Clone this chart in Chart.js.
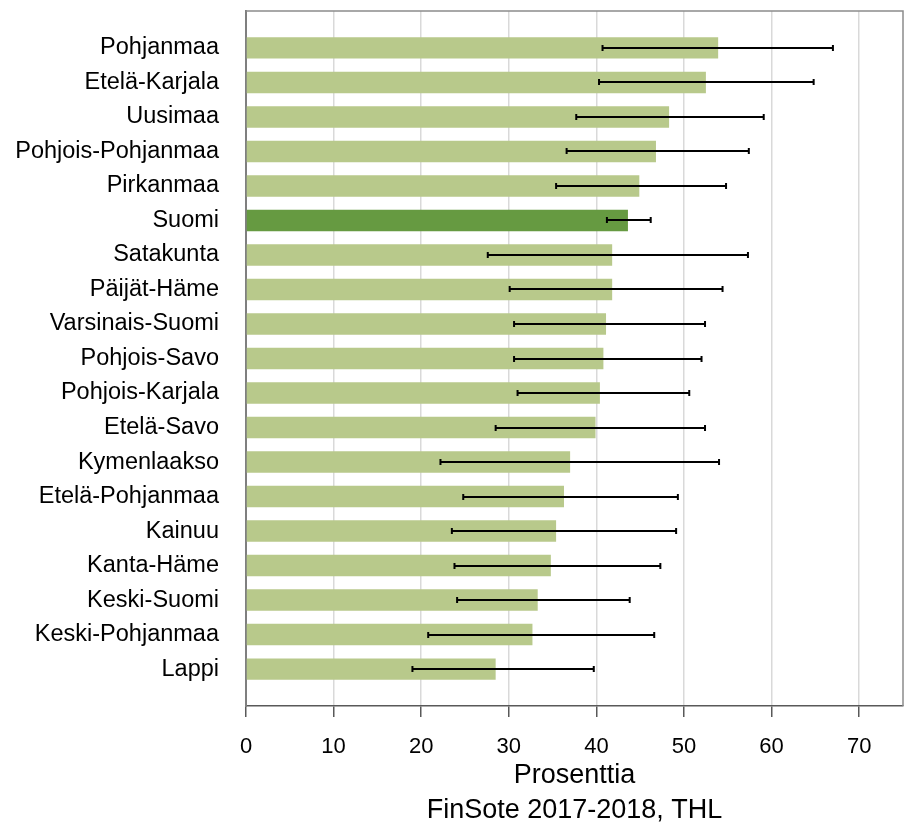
<!DOCTYPE html>
<html>
<head>
<meta charset="utf-8">
<title>FinSote 2017-2018</title>
<script src="https://cdn.jsdelivr.net/npm/chart.js@4.4.1/dist/chart.umd.min.js"></script>
<style>
  html, body { margin: 0; padding: 0; background: #fff; }
  #wrap { width: 905px; height: 825px; position: relative; }
</style>
</head>
<body>
<div id="wrap"><canvas id="chart"></canvas></div>
<script>
// Regions, sorted by share (%), with 95 % confidence limits
var REGIONS = ["Pohjanmaa", "Etelä-Karjala", "Uusimaa", "Pohjois-Pohjanmaa", "Pirkanmaa", "Suomi",
  "Satakunta", "Päijät-Häme", "Varsinais-Suomi", "Pohjois-Savo", "Pohjois-Karjala", "Etelä-Savo",
  "Kymenlaakso", "Etelä-Pohjanmaa", "Kainuu", "Kanta-Häme", "Keski-Suomi", "Keski-Pohjanmaa", "Lappi"];
var VALUES = [53.9, 52.5, 48.3, 46.8, 44.9, 43.6, 41.8, 41.8, 41.1, 40.8, 40.4, 39.9, 37.0, 36.3, 35.4, 34.8, 33.3, 32.7, 28.5];
var LOWER  = [40.7, 40.3, 37.7, 36.6, 35.4, 41.2, 27.6, 30.1, 30.6, 30.6, 31.0, 28.5, 22.2, 24.8, 23.5, 23.8, 24.1, 20.8, 19.0];
var UPPER  = [67.0, 64.8, 59.1, 57.4, 54.8, 46.2, 57.3, 54.4, 52.4, 52.0, 50.6, 52.4, 54.0, 49.3, 49.1, 47.3, 43.8, 46.6, 39.7];
var X_TICKS = [0, 10, 20, 30, 40, 50, 60, 70];
var HIGHLIGHT = "Suomi";
var X_TITLE = ["Prosenttia", "FinSote 2017-2018, THL"];

(function () {
  "use strict";
  var COL = { bar: "#b8c98b", hi: "#669a41", grid: "#d9d9d9", axis: "#595959", frame: "#8c8c8c" };
  var FONT = "'Liberation Sans', Arial, sans-serif";
  var Y_MIN = -1.07, Y_MAX = REGIONS.length - 1 + 1.07; // empty space above first / below last bar

  // error bars + top/right frame of the plot area
  var extras = {
    id: "extras",
    afterDatasetsDraw: function (chart) {
      var ctx = chart.ctx, x = chart.scales.x, y = chart.scales.y;
      ctx.save();
      ctx.strokeStyle = "#000"; ctx.lineWidth = 2;
      REGIONS.forEach(function (r, i) {
        var yp = Math.round(y.getPixelForValue(i));
        var x0 = x.getPixelForValue(LOWER[i]), x1 = x.getPixelForValue(UPPER[i]);
        ctx.beginPath();
        ctx.moveTo(x0, yp); ctx.lineTo(x1, yp);
        ctx.moveTo(x0, yp - 3); ctx.lineTo(x0, yp + 3);
        ctx.moveTo(x1, yp - 3); ctx.lineTo(x1, yp + 3);
        ctx.stroke();
      });
      ctx.restore();
    },
    afterDraw: function (chart) {
      var ctx = chart.ctx, a = chart.chartArea;
      ctx.save();
      ctx.strokeStyle = COL.frame; ctx.lineWidth = 1.5;
      ctx.beginPath();
      ctx.moveTo(a.left, a.top); ctx.lineTo(a.right, a.top); ctx.lineTo(a.right, a.bottom);
      ctx.stroke();
      ctx.restore();
    }
  };

  new Chart(document.getElementById("chart"), {
    type: "bar",
    data: {
      datasets: [{
        data: VALUES.map(function (v, i) { return { x: v, y: i }; }),
        backgroundColor: REGIONS.map(function (r) { return r === HIGHLIGHT ? COL.hi : COL.bar; }),
        barPercentage: 0.62, categoryPercentage: 1
      }]
    },
    options: {
      indexAxis: "y", responsive: true, maintainAspectRatio: false, animation: false,
      layout: { padding: { top: 11, right: 2, left: 0, bottom: 0 } },
      plugins: { legend: { display: false }, tooltip: { enabled: false } },
      scales: {
        x: {
          type: "linear", min: 0, max: 75,
          afterBuildTicks: function (s) { s.ticks = X_TICKS.map(function (v) { return { value: v }; }); s.min = 0; s.max = 75; },
          afterFit: function (s) { s.height = 119; s.paddingLeft = 0; s.paddingRight = 0; },
          grid: { color: COL.grid, lineWidth: 1.5, tickColor: COL.axis, tickLength: 11, tickWidth: 1.5 },
          border: { color: COL.axis, width: 1.5 },
          ticks: { color: "#000", font: { family: FONT, size: 22 }, padding: 17, maxRotation: 0 },
          title: { display: true, text: X_TITLE, color: "#000", font: { family: FONT, size: 27, lineHeight: 1.3 },
            padding: { top: 0, bottom: -3 } }
        },
        y: {
          type: "linear", reverse: true, min: Y_MIN, max: Y_MAX, bounds: "data", offset: false,
          afterBuildTicks: function (s) {
            s.ticks = REGIONS.map(function (r, i) { return { value: i }; });
            s.min = Y_MIN; s.max = Y_MAX;
          },
          afterFit: function (s) { s.width = 246; s.paddingTop = 0; s.paddingBottom = 0; },
          grid: { display: false, drawTicks: false, offset: false },
          border: { color: "#7f7f7f", width: 2 },
          ticks: { autoSkip: false, color: "#000", font: { family: FONT, size: 23.5 }, padding: 27,
            callback: function (v) { return REGIONS[v]; } }
        }
      }
    },
    plugins: [extras]
  });
})();
</script>
</body>
</html>
